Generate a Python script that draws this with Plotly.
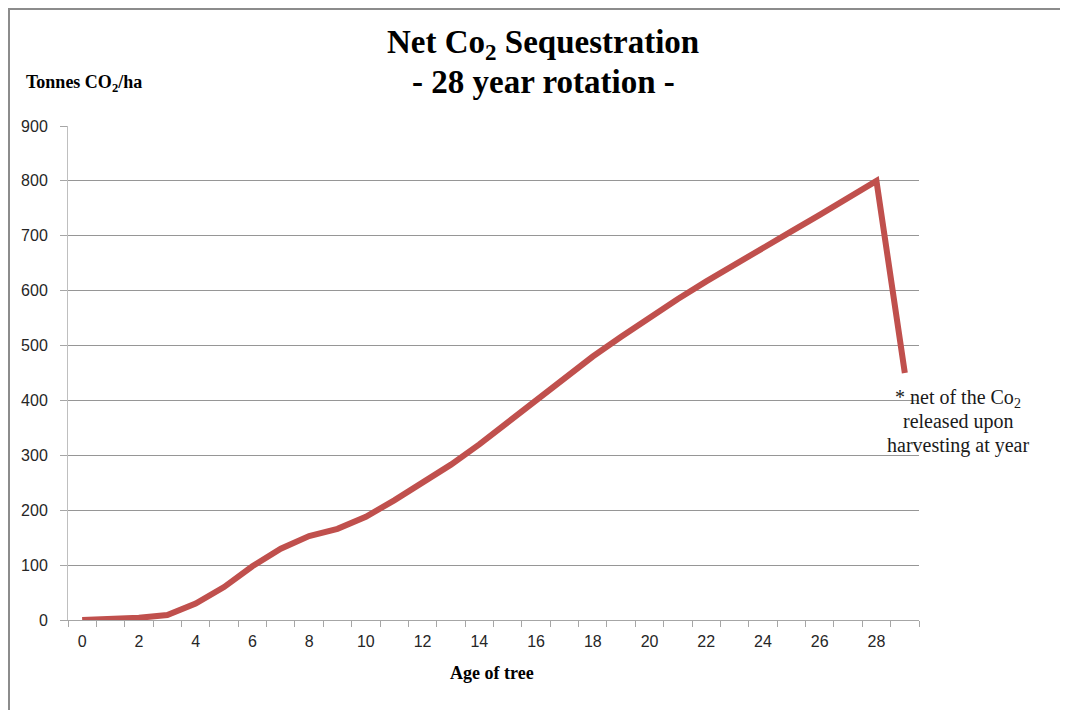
import plotly.graph_objects as go

ages = list(range(0, 30))
net_co2 = [0, 2, 4, 9, 30, 60, 98, 130, 153, 166, 188, 218, 250, 283, 320, 360, 400,
           440, 480, 516, 552, 585, 617, 648, 680, 708, 738, 768, 800, 450]
x_tick_vals = list(range(0, 29, 2))
x_tick_text = [str(v) for v in x_tick_vals]
y_tick_vals = list(range(0, 901, 100))

# page has an 8px body margin; size the figure so it fills the 1068x710 window
OFF = 8
W, H = 1068 - OFF, 710 - OFF
L, R, T, B = 68 - OFF, 149, 126 - OFF, 90
pw = W - L - R
ph = H - T - B

def px(x):  # screen x -> paper
    return (x - OFF - L) / pw

def py(y):  # screen y -> paper
    return (H - B - (y - OFF)) / ph

fig = go.Figure()
fig.add_trace(go.Scatter(
    x=ages, y=net_co2, mode="lines",
    line=dict(color="#C0504D", width=6),
    hoverinfo="x+y", showlegend=False,
))

fig.update_layout(
    width=W, height=H,
    margin=dict(l=L, r=R, t=T, b=B, pad=0),
    paper_bgcolor="white", plot_bgcolor="white",
    showlegend=False,
    font=dict(family="Liberation Sans", color="#262626"),
)

fig.update_xaxes(
    range=[-0.5, 29.5], tickmode="array", tickvals=x_tick_vals, ticktext=x_tick_text,
    ticks="", showgrid=False, zeroline=False,
    showline=True, linecolor="#A6A6A6", linewidth=1,
    tickfont=dict(family="Liberation Sans", size=16, color="#262626"),
    ticklabelstandoff=7,
    minor=dict(tick0=-0.5, dtick=1, ticks="outside", ticklen=6, tickcolor="#A6A6A6", showgrid=False),
)
fig.update_yaxes(
    range=[0, 900], tickmode="array", tickvals=y_tick_vals,
    ticks="outside", ticklen=7, tickcolor="#A6A6A6",
    showgrid=True, gridcolor="#969696", gridwidth=1, zeroline=False,
    showline=True, linecolor="#BFBFBF", linewidth=1,
    tickfont=dict(family="Liberation Sans", size=16, color="#262626"),
    ticklabelstandoff=9,
)

serif = "Liberation Serif"
annotations = [
    dict(text="<b>Net Co<sub>2</sub> Sequestration</b>", x=px(543), y=py(44),
         font=dict(family=serif, size=33, color="black")),
    dict(text="<b>- 28 year rotation -</b>", x=px(543), y=py(82),
         font=dict(family=serif, size=33, color="black")),
    dict(text="<b>Tonnes CO<sub>2</sub>/ha</b>", x=px(24), y=py(84), xanchor="left",
         font=dict(family=serif, size=18, color="black")),
    dict(text="<b>Age of tree</b>", x=px(492), y=py(673),
         font=dict(family=serif, size=18, color="black")),
    dict(text="* net of the Co<sub>2</sub>", x=px(958), y=py(398),
         font=dict(family=serif, size=20, color="#1a1a1a")),
    dict(text="released upon", x=px(958), y=py(421),
         font=dict(family=serif, size=20, color="#1a1a1a")),
    dict(text="harvesting at year", x=px(958), y=py(445),
         font=dict(family=serif, size=20, color="#1a1a1a")),
]
for a in annotations:
    a.update(xref="paper", yref="paper", showarrow=False)
    a.setdefault("xanchor", "center")
    a.setdefault("yanchor", "middle")
fig.update_layout(annotations=annotations)

fig.add_shape(type="rect", xref="paper", yref="paper",
              x0=px(9), x1=px(1090), y0=py(730), y1=py(9),
              line=dict(color="#8C8C8C", width=2), fillcolor="rgba(0,0,0,0)", layer="below")

fig.write_html("out.html")
